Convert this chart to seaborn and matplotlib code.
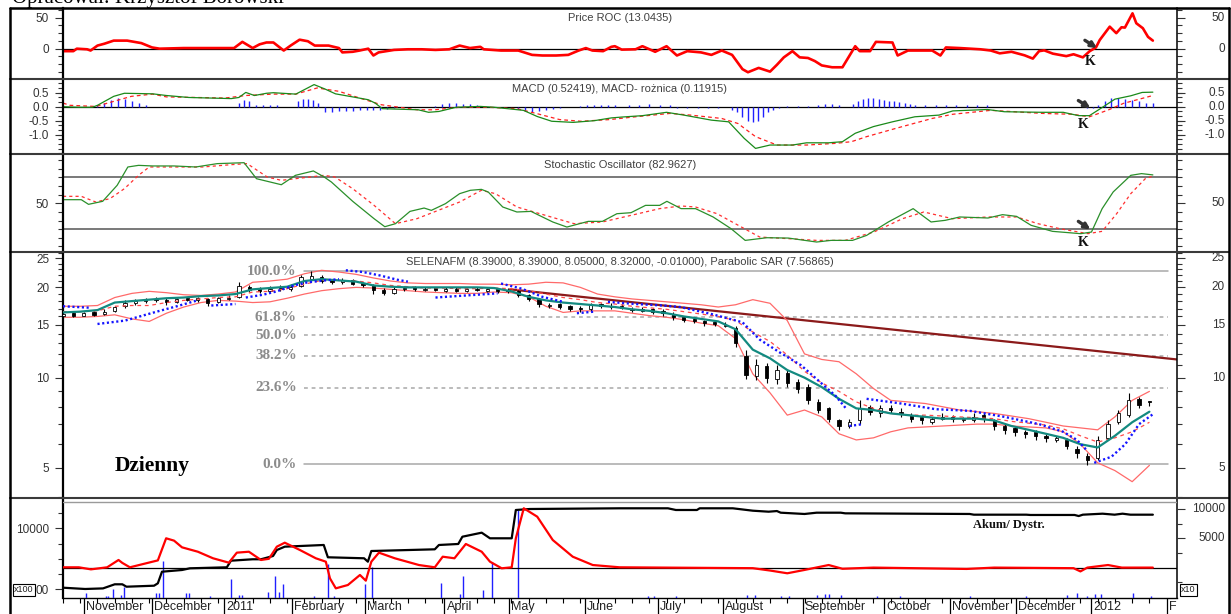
import numpy as np
import matplotlib
matplotlib.use('Agg')
import matplotlib.pyplot as plt
import matplotlib.ticker as mticker
import matplotlib.transforms as mtrans
from matplotlib.lines import Line2D
import seaborn as sns

W, H = 1231, 614
sns.set_theme(style='white')
plt.rcParams['font.family'] = ['Liberation Sans', 'DejaVu Sans']

# ---------------- data (x = trading-day index) ----------------
month_pos = [6.1, 25.8, 46.8, 66.5, 87.5, 110.6, 129.2, 151.3, 172.5, 191.3, 214.5, 238, 257.1, 276.4, 298, 320]
month_lab = ['November', 'December', '2011', 'February', 'March', 'April', 'May', 'June', 'July',
             'August', 'September', 'October', 'November', 'December', '2012', 'F']

roc_day = [0,3,4,7,8,10,12,14.7,18.6,22.7,25.8,28,35,42,49.6,52,55,57,59,61,
           64,66,68.6,71,73,77,80,81,84,86,88.5,90,91.5,96,100,104,108,112,115,118,
           121,122,127,132,136,139,143,146.5,149.5,151.6,153.5,156.6,159,160,162,166,168,171.7,175,178,
           181,185,188,191,194,197,198.6,201.7,205,207,209,211.5,213.6,216,218,220,223,226,229.7,231,
           234,235.7,240.5,242,245,252,254.4,256,260,263,266,269,271.6,275,278.8,281.2,283,284.5,287,290.9,
           293,295.7,297.7,299.5,300.6,303.5,305.4,306.9,307.9,310.1,311.2,313.1,314.6,316]
roc_val = [-4,-4,0,-1,-3,5,8,13,13,9,2,0,1,1,1,11,1,7,10,10,
           -3,5,14.5,12,5,5,1,-6,-5,-3,0,-11,-6,-2,-1,-1,-2,-1,5,1,
           3,-1,-3,-3,-10,-11,-11,-10,-3,1,-3,-4,3,4,-1.5,-1,4,-5,4,-11,
           -4,-6,-10,-3,-10,-33,-38,-31,-37,-26,-14,-4,-14,-15,-20,-27,-30,-30,4,-4,
           -4,11,10,-11,-3,-3,-11,2,1,0,-1,-3,-7.5,-5,-10.7,-16,-4,-2.7,-8,-12,
           -9,-14,-4,2,14,35.5,25,34.5,34,57,41,33,19,13]

macd_day = [0,4.5,8.5,10,14.7,17.8,26,30,36.4,42.6,48.8,51,53,55.5,59,61,67.5,72.8,76,79,
            84,88.5,90.5,92.6,103,106,109,114,121,125,133.5,137.5,141.7,147.9,154,159,162,168,175,180,
            188,193,197.5,200.8,205,211.5,215.6,222,226,229.7,235,240.5,247,254,258,268,273,284,290,294.5,
            297.6,300.9,305,309.6,312.9,316]
macd_val = [0,-0.02,-0.02,0.05,0.37,0.48,0.46,0.40,0.33,0.31,0.29,0.33,0.51,0.40,0.48,0.50,0.45,0.79,0.63,0.46,
            0.35,0.25,0.13,-0.07,-0.11,-0.20,-0.17,-0.02,0.01,-0.02,-0.13,-0.35,-0.52,-0.56,-0.50,-0.40,-0.37,-0.32,-0.20,-0.30,
            -0.48,-0.54,-1.13,-1.49,-1.37,-1.37,-1.29,-1.29,-1.25,-0.95,-0.71,-0.54,-0.36,-0.30,-0.15,-0.10,-0.18,-0.20,-0.20,-0.32,
            -0.32,-0.06,0.27,0.39,0.51,0.52]
sig_day = [0,2,9.5,14.7,19.8,26,30,47,53,61,67.5,73.7,80,86,92.3,102.7,107.8,115,123.4,131.6,
           137.8,144,150.2,158.5,166,176,182,191,195.7,200.8,207,215.6,224,228.6,233,241.6,252,258,269,284,
           292.6,297.6,303,307.5,313,316]
sig_val = [0.13,0.05,0.01,0.19,0.37,0.45,0.35,0.31,0.40,0.45,0.45,0.67,0.55,0.31,0.07,-0.11,-0.11,-0.02,-0.02,-0.07,
           -0.26,-0.46,-0.52,-0.46,-0.36,-0.24,-0.30,-0.42,-0.60,-1.07,-1.37,-1.37,-1.31,-1.25,-1.07,-0.77,-0.42,-0.27,-0.13,-0.24,
           -0.27,-0.36,-0.12,0.12,0.30,0.40]
hist_day = [10,12,14,16,18,20,22,24, 51,52.5,54,56,58,60,62, 68,69.5,71,72.5,74,
            76,78,80,82,84,86,88,90,92,94,96, 108,110,112,114,116,118,120,
            132,134,136,138,140,142,144, 150,152,154,156,158,160,164,167,170,173,176,
            178,181,184,187,190, 194,195.5,197,198.5,200,201.5,203,204.5,206,207.5,
            210,213,216,219,221,223,225, 229,230.5,232,233.5,235,236.5,238,239.5,241,242.5,244,245.5,247,
            250,253,256,259,262,265,268, 297,298.5, 300,302,304,306,308,310,312,314,316]
hist_val = [0.05,0.15,0.25,0.30,0.28,0.20,0.12,0.05, 0.15,0.25,0.20,0.07,0.05,0.05,0.06, 0.20,0.27,0.27,0.25,0.15,
            -0.20,-0.18,-0.17,-0.15,-0.14,-0.12,-0.10,-0.10,-0.10,-0.08,-0.05, 0.04,0.08,0.12,0.13,0.10,0.08,0.05,
            -0.08,-0.15,-0.18,-0.15,-0.12,-0.08,-0.04, 0.04,0.05,0.05,0.05,0.06,0.05,0.05,0.07,0.08,0.07,0.05,
            -0.04,-0.04,-0.04,-0.04,-0.04, -0.10,-0.20,-0.35,-0.50,-0.55,-0.50,-0.35,-0.20,-0.10,-0.05,
            0.04,0.04,0.04,0.06,0.10,0.08,0.05, 0.10,0.20,0.28,0.30,0.30,0.28,0.25,0.22,0.20,0.17,0.14,0.10,0.07,
            0.05,0.05,0.05,0.05,0.05,0.05,0.05, -0.04,-0.05, 0.05,0.20,0.30,0.30,0.28,0.25,0.20,0.15,0.12]

stk_day = [0,5.3,7.4,11.5,15.7,18.8,21.9,26.0,32.2,38.5,44.7,52.5,56.1,63.3,67.4,72.6,75.7,77.8,84.0,90.2,
           93.3,96.4,100.6,104.7,106.8,110.9,115.0,118.1,121.3,123.3,127.5,131.6,135.7,142.0,146.1,152.3,156.4,160.6,164.7,168.9,
           173.0,175.1,179.2,183.4,188.5,193.7,197.8,204.1,210.3,218.5,222.7,228.9,233.0,239.3,246.5,251.7,255.8,260.0,268.2,272.4,
           276.5,280.7,286.9,295.1,298.2,301.3,304.5,309.6,312.7,316]
stk_val = [54.2,54.2,48.8,52.3,70.9,92.2,94.1,93.4,93.4,92.2,96.1,97.2,78.6,71.6,82.5,87.6,80.6,74.8,52.3,32.1,
           22.8,26.3,40.6,44.5,41.8,49.6,61.2,65.1,66.2,63.1,45.7,39.9,40.6,28.3,22.4,29.0,29.0,37.9,39.1,47.6,
           47.6,52.3,43.8,43.8,34.1,20.5,6.9,10.0,9.6,5.0,6.9,6.9,12.7,28.3,43.8,28.3,30.2,34.1,32.9,36.8,
           34.8,24.4,17.4,14.7,16.6,43.8,63.2,82.5,84.5,83.0]
std_day = [0,5.3,9.5,13.6,17.8,21.9,25.0,32.2,40.5,48.8,53.4,59.2,63.3,67.4,75.7,78.8,84.0,90.2,96.4,102.6,
           108.8,115.0,121.3,125.4,131.6,139.9,148.2,156.4,164.7,173.0,179.2,183.4,189.6,195.8,202.0,210.3,218.5,226.8,235.1,243.4,
           249.6,257.9,268.2,276.5,282.7,289.0,297.2,301.3,305.5,309.6,313.8,316]
std_val = [58.1,58.1,51.5,55.4,67.0,82.5,92.2,92.2,92.2,94.9,96.1,80.6,76.7,78.6,82.5,80.6,67.0,47.6,26.3,32.1,
           41.8,51.5,65.1,61.2,45.7,36.0,26.3,28.3,36.0,43.8,46.9,45.7,38.0,24.4,10.8,8.9,6.9,6.9,16.6,32.1,
           39.9,32.1,34.1,34.1,26.3,20.5,14.7,17.4,37.9,61.2,78.6,81.5]

# candles every 3 trading days
c_day = list(range(0, 316, 3))
c_open = [16.0,16.4,16.1,16.5,16.3,16.7,17.3,17.7,18.0,18.3,
          18.2,17.9,18.4,18.1,18.3,17.9,18.3,18.6,20.1,19.7,
          19.5,19.9,19.7,20.2,21.4,21.7,21.1,20.8,21.1,20.7,
          20.3,19.6,19.2,19.7,20.0,19.6,19.9,19.5,19.8,19.5,
          19.8,19.5,19.7,19.6,19.4,18.8,18.3,17.4,17.6,17.3,
          17.1,16.9,17.6,17.2,17.4,17.0,16.7,16.9,16.7,16.3,
          15.9,15.7,15.4,15.3,14.9,14.6,11.8,10.1,10.9,9.9,
          10.4,9.7,9.3,8.3,7.9,7.2,6.9,7.2,8.0,7.6,
          7.9,7.7,7.5,7.4,7.1,7.3,7.4,7.2,7.2,7.5,
          7.2,6.9,6.8,6.6,6.6,6.4,6.2,6.2,5.8,5.5,
          5.4,6.3,7.1,7.5,8.5,8.39]
c_close = [16.3,16.1,16.4,16.2,16.6,17.2,17.8,18.0,18.2,18.1,
           17.9,18.3,18.2,18.4,17.8,18.4,18.5,20.2,19.6,19.4,
           19.8,19.7,20.1,21.6,21.8,21.0,20.9,21.2,20.6,20.4,
           19.6,19.1,19.8,19.9,19.7,19.8,19.6,19.7,19.5,19.8,
           19.6,19.7,19.5,19.4,18.9,18.3,17.6,17.5,17.2,17.0,
           16.9,17.5,17.3,17.4,17.1,16.8,16.9,16.6,16.4,15.9,
           15.6,15.5,15.2,15.1,15.0,13.0,10.2,11.0,10.0,10.6,
           9.6,9.2,8.4,7.8,7.3,6.9,7.1,7.9,7.7,7.9,
           7.8,7.6,7.3,7.2,7.3,7.4,7.3,7.3,7.4,7.3,
           6.9,6.7,6.6,6.5,6.4,6.3,6.3,5.9,5.6,5.3,
           6.2,7.0,7.6,8.4,8.1,8.32]
c_high = [16.5,16.6,16.6,16.7,16.9,17.4,18.1,18.3,18.5,18.6,
          18.4,18.5,18.6,18.6,18.5,18.6,18.8,20.9,20.4,20.0,
          20.2,20.3,20.5,22.0,22.6,22.0,21.4,21.5,21.3,20.9,
          20.5,19.9,20.1,20.2,20.2,20.1,20.1,20.0,20.0,20.1,
          20.0,20.0,19.9,19.9,19.6,19.0,18.5,17.8,17.8,17.5,
          17.3,17.7,17.8,17.7,17.6,17.2,17.2,17.1,16.9,16.5,
          16.1,15.9,15.6,15.5,15.3,14.9,12.4,11.5,11.2,11.0,
          10.6,9.9,9.5,8.5,8.0,7.3,7.3,8.4,8.1,8.1,
          8.1,7.9,7.6,7.5,7.4,7.6,7.5,7.4,7.6,7.6,
          7.3,7.0,6.9,6.7,6.7,6.5,6.4,6.3,5.9,5.6,
          6.4,7.2,7.8,8.9,8.6,8.39]
c_low = [15.8,15.9,16.0,16.0,16.2,16.6,17.1,17.5,17.8,17.9,
         17.5,17.7,18.0,17.9,17.3,17.7,18.1,18.5,19.3,19.1,
         19.3,19.4,19.5,20.0,21.2,20.7,20.6,20.6,20.3,20.1,
         19.0,18.9,19.0,19.5,19.5,19.4,19.4,19.3,19.3,19.3,
         19.4,19.3,19.2,19.2,18.6,18.0,17.2,17.1,16.9,16.7,
         16.6,16.7,17.1,17.0,16.9,16.5,16.5,16.3,16.1,15.6,
         15.3,15.2,14.9,14.9,14.7,12.7,9.9,9.8,9.6,9.5,
         9.3,8.9,8.2,7.6,7.1,6.7,6.8,7.0,7.5,7.4,
         7.6,7.4,7.1,7.0,7.0,7.2,7.1,7.1,7.1,7.1,
         6.7,6.5,6.4,6.3,6.2,6.1,6.1,5.8,5.4,5.1,
         5.3,6.2,7.0,7.4,7.9,8.05]

# weekly readings (every 5 trading days)
w_day = list(range(0, 316, 5))
ma_teal = [16.5,16.6,16.8,17.8,18.0,18.2,18.4,18.5,18.7,18.8,
           19.0,19.7,19.9,20.1,21.0,21.3,21.1,20.9,20.3,20.1,
           20.0,20.0,20.0,20.0,20.0,19.9,19.4,18.6,18.1,17.8,
           17.6,17.4,17.2,16.9,16.7,16.4,16.0,15.7,15.4,14.5,
           12.4,11.6,10.6,10.0,9.3,8.5,7.9,7.8,7.6,7.5,
           7.4,7.3,7.3,7.3,7.2,6.9,6.7,6.5,6.3,6.0,
           5.85,6.4,7.1,7.7]
ma_red = [16.6,16.6,16.7,17.3,17.4,17.4,17.8,18.1,18.3,18.5,
          18.6,19.3,19.4,19.8,20.5,21.1,21.1,21.0,20.7,20.3,
          20.1,19.9,19.9,19.8,19.8,19.9,19.8,19.5,19.0,18.5,
          18.2,17.8,17.6,17.3,17.1,16.9,16.6,16.3,16.0,15.5,
          14.2,13.2,11.9,10.5,9.6,9.0,8.3,7.9,7.6,7.5,
          7.5,7.45,7.4,7.35,7.3,7.15,7.05,6.95,6.75,6.4,
          6.1,6.3,6.6,7.1]
bb_upper = [17.3,17.3,17.4,18.5,19.1,19.4,19.2,18.9,18.8,19.0,
            19.3,20.8,21.0,21.3,22.2,22.8,22.5,22.1,21.5,21.0,
            20.7,20.6,20.6,20.6,20.5,20.5,20.4,20.5,20.8,20.7,
            20.0,19.0,18.6,18.3,18.1,17.9,17.7,17.5,17.2,17.5,
            18.2,17.7,15.5,12.0,11.5,11.3,10.3,9.2,8.4,8.3,
            8.2,8.0,7.8,7.7,7.6,7.45,7.3,7.1,6.9,6.8,
            6.7,7.4,8.4,9.0]
bb_lower = [15.9,15.9,16.0,16.2,15.7,15.4,16.4,17.2,17.8,18.1,
            18.0,17.8,17.9,18.4,19.0,19.5,19.8,20.0,19.9,19.7,
            19.5,19.3,19.2,19.1,19.1,19.3,19.2,18.6,17.3,16.5,
            16.7,16.7,16.7,16.4,16.1,15.9,15.6,15.2,14.9,13.5,
            10.3,8.9,7.5,7.8,7.4,6.5,6.2,6.3,6.6,6.8,
            6.85,6.9,6.95,7.0,7.0,6.9,6.85,6.8,6.6,6.0,
            5.2,4.9,4.5,5.1]

nan = np.nan
sar_day = [0,4,8,nan,10,18,28,33,39,nan,43,50,nan,53,58,62,67,71,76,80,nan,82,87,92,97,100,nan,
           108,117,126,nan,127,133,139,145,nan,149,154,nan,158,166,174,179,188,197,202,208,214,224,227,nan,
           228,232,nan,233,243,253,263,273,283,290,294,297,nan,299,304,308,312,316]
sar_val = [17.3,17.2,17.1,nan,15.1,15.5,16.7,17.3,18.1,nan,17.4,17.6,nan,18.5,18.9,19.4,20.3,20.8,21.1,21.3,nan,
           22.8,22.5,21.9,21.2,20.9,nan,18.5,18.8,19.1,nan,20.6,19.8,18.6,17.9,nan,16.4,16.6,nan,
           17.9,17.6,17.4,17.2,16.3,15.3,13.4,12.1,11.0,8.7,7.9,nan,6.9,7.0,nan,
           8.5,8.2,7.85,7.75,7.4,7.0,6.6,6.2,5.7,nan,5.2,5.45,6.0,7.0,7.55]

trend_day = [129.6, 323]
trend_val = [19.7, 11.5]
fib_levels = [22.6, 15.93, 13.87, 11.81, 9.26, 5.14]
fib_labels = ['100.0%', '61.8%', '50.0%', '38.2%', '23.6%', '0.0%']

ad_day = [0,6.4,11.6,15,17.2,18.4,26.4,27.5,28.7,34.5,36.8,47.5,48.7,55,57.4,60.9,62,64.3,75.6,76.8,
          87.3,88.4,89.4,107.8,109,114.6,115.8,121.4,123.8,130.1,131.3,135.4,161.4,175.4,177.7,183.8,184.6,194.2,200,204.6,
          207,208.1,215,218.5,225.5,226.8,262.9,264.1,279.3,280.5,293.3,294.5,295.7,301.4,304.9,307.2,309.5,316]
ad_val = [-3430,-3650,-3550,-2850,-2850,-3260,-3090,-2680,-700,-410,-120,50,1180,1420,1420,1980,3000,3570,3860,1760,
          1590,1010,2830,3120,3860,4030,5270,5960,5000,5000,9830,10000,10120,10120,9830,9830,10120,10120,9710,9540,
          9650,9370,9150,9370,9370,9260,9150,9030,9030,8980,8980,8800,9030,9200,9030,9200,9030,9030]
osc_day = [0,4.6,8.1,12.8,16.1,17.2,19.4,27.5,29.9,32.2,34.5,39.1,43.5,48.1,50.4,53.9,57.4,59.7,62,64.3,
           68.7,73.3,76.2,77.4,79.1,82.6,86.1,87.8,89.4,91.6,96.2,103.2,107.8,110.1,113.5,116.8,121.4,123.8,127.2,130.1,
           131.3,133.6,137.5,142,147.8,153.6,161.4,200,205,210,215,222,226,235,262,270,293,295,297,303,307,316]
osc_val = [50,50,-300,50,1300,800,50,1230,5000,4600,3460,2710,1590,840,2550,2710,1300,1500,3570,4250,
           3000,1590,1010,-1830,-3540,-2970,-1260,-2230,1010,2550,1590,440,50,1860,1590,4030,2710,1010,-120,50,
           5000,10120,8690,4710,1860,440,50,-100,-500,-970,-400,440,-200,0,-230,0,-100,-650,0,440,0,0]
vol_day = [6.7,12.5,13.0,14.4,16.7,17.6,26.9,27.8,29.0,35.7,36.4,42.5,48.7,51.0,51.9,59.3,61.6,62.5,63.7,72.8,
           76.8,78.6,87.7,89.6,109.7,115.0,116.1,121.8,124.3,131.8,169.6,171.3,177.7,198.3,200.6,208.1,210.4,218.5,221,222.2,
           225.5,236.1,242.6,262.9,279.3,291,294,297,299.3,301,310.1,315.4]
vol_val = [770,330,330,1480,490,1750,820,820,6070,820,820,330,3120,490,490,1040,3610,1040,2240,330,
           5630,330,2300,5030,2410,600,3610,1310,5960,14400,330,330,300,490,490,330,330,490,650,650,
           490,330,330,330,300,500,820,400,650,650,820,330]

# ---------------- figure ----------------
fig = plt.figure(figsize=(W / 100, H / 100), dpi=100)
fig.patch.set_facecolor('white')
X0, X1 = 63, 1177
XR = (1225 - X0) / (X1 - X0)   # right label anchor in axes fraction
LBL = dict(fontsize=8.5, color='#333333')
ARROW = dict(arrowstyle='-|>', color='#333333', lw=2.4, mutation_scale=8, shrinkA=0, shrinkB=0)


def panel(top, bot):
    return fig.add_axes([X0 / W, 1 - bot / H, (X1 - X0) / W, (bot - top) / H])


def style(ax, ylim, major, labels, minor, log=False):
    if log:
        ax.set_yscale('log')
    ax.set_xlim(0, 323)
    ax.set_ylim(*ylim)
    ax.set_facecolor('white')
    for s in ['top', 'bottom']:
        ax.spines[s].set_visible(False)
    ax.spines['left'].set_linewidth(1.6)
    ax.spines['left'].set_color('black')
    ax.spines['right'].set_linewidth(1.1)
    ax.spines['right'].set_color('black')
    ax.yaxis.set_major_locator(mticker.FixedLocator(major))
    ax.yaxis.set_major_formatter(mticker.FixedFormatter(labels))
    ax.yaxis.set_minor_locator(mticker.FixedLocator(minor))
    ax.yaxis.set_minor_formatter(mticker.NullFormatter())
    ax.tick_params(axis='y', which='both', direction='out', left=True, right=True,
                   labelleft=True, labelright=False, colors='#333333', labelsize=8.5, width=0.8)
    ax.tick_params(axis='y', which='major', length=6, pad=4)
    ax.tick_params(axis='y', which='minor', length=3.5)
    ax.set_xticks([])
    tr = mtrans.blended_transform_factory(ax.transAxes, ax.transData)
    for v, l in zip(major, labels):
        ax.text(XR, v, l, transform=tr, ha='right', va='center', **LBL)


def title(ax, yfrac, txt):
    ax.text(0.5, yfrac, txt, transform=ax.transAxes, ha='center', va='center',
            fontsize=8, color='#404040')


def dashed(ax, pat=(3, 2)):
    ax.lines[-1].set_linestyle((0, pat))


def k_mark(ax, tail, head, kpos):
    ax.annotate('', xy=head, xytext=tail, arrowprops=ARROW, zorder=8)
    ax.text(kpos[0], kpos[1], 'K', ha='center', va='center', fontsize=10, fontweight='bold',
            family=['Liberation Serif'], color='#111111', zorder=8)


# ---- Panel 1: Price ROC
ax1 = panel(8, 79)
style(ax1, (-48.9, 65.6), [0, 50], ['0', '50'], list(np.arange(-37.5, 65, 12.5)))
ax1.axhline(0, color='black', lw=0.9, zorder=1)
sns.lineplot(x=roc_day, y=roc_val, ax=ax1, color='#ff0000', lw=1.9, legend=False, errorbar=None, sort=False)
title(ax1, 0.86, 'Price ROC (13.0435)')
k_mark(ax1, (296.3, 13.5), (299.8, 1.0), (297.7, -21))

# ---- Panel 2: MACD
ax2 = panel(79, 154)
style(ax2, (-1.69, 0.99), [-1.0, -0.5, 0.0, 0.5], ['-1.0', '-0.5', '0.0', '0.5'],
      list(np.arange(-1.6667, 0.99, 1 / 6)))
ax2.axhline(0, color='black', lw=0.9, zorder=1)
ax2.vlines(hist_day, 0, hist_val, color='#2020ff', lw=1.0, zorder=2)
sns.lineplot(x=sig_day, y=sig_val, ax=ax2, color='#ff2020', lw=0.9, legend=False, errorbar=None, sort=False)
dashed(ax2, (3, 2.5))
sns.lineplot(x=macd_day, y=macd_val, ax=ax2, color='#1a8a1a', lw=0.9, legend=False, errorbar=None, sort=False)
title(ax2, 0.867, 'MACD (0.52419), MACD- rożnica (0.11915)')
k_mark(ax2, (294.4, 0.22), (297.9, -0.05), (295.7, -0.65))

# ---- Panel 3: Stochastic
ax3 = panel(154, 252)
style(ax3, (-6.6, 107.3), [50], ['50'], [0, 10, 20, 30, 40, 60, 70, 80, 90, 100])
ax3.axhline(80, color='#555555', lw=1.1, zorder=1)
ax3.axhline(20, color='#555555', lw=1.1, zorder=1)
sns.lineplot(x=std_day, y=std_val, ax=ax3, color='#ff3030', lw=0.9, legend=False, errorbar=None, sort=False)
dashed(ax3, (2.5, 2.5))
sns.lineplot(x=stk_day, y=stk_val, ax=ax3, color='#2a8f2a', lw=0.9, legend=False, errorbar=None, sort=False)
title(ax3, 0.888, 'Stochastic Oscillator (82.9627)')
k_mark(ax3, (294.4, 29), (297.9, 19.5), (295.7, 4.5))

# ---- Panel 4: price
ax4 = panel(252, 498)
style(ax4, (3.97, 26.24), [5, 10, 15, 20, 25], ['5', '10', '15', '20', '25'],
      [v for v in range(4, 27) if v not in (5, 10, 15, 20, 25)], log=True)
for lv, lb in zip(fib_levels, fib_labels):
    solid = lb in ('100.0%', '0.0%')
    ax4.plot([70, 320.3], [lv, lv], color='#a8a8a8', lw=1.1,
             linestyle='-' if solid else (0, (2.5, 2.5)), zorder=1)
    ax4.text(67.8, lv, lb, ha='right', va='center', fontsize=11, fontweight='bold',
             family=['Liberation Serif'], color='#8c8c8c')
ax4.plot(trend_day, trend_val, color='#8b1a1a', lw=1.6, zorder=2)
sns.lineplot(x=w_day, y=bb_upper, ax=ax4, color='#ff6a6a', lw=0.9, legend=False, errorbar=None, sort=False)
sns.lineplot(x=w_day, y=bb_lower, ax=ax4, color='#ff6a6a', lw=0.9, legend=False, errorbar=None, sort=False)
ax4.vlines(c_day, c_low, c_high, color='black', lw=0.8, zorder=3)
body_col = ['white' if c >= o else 'black' for o, c in zip(c_open, c_close)]
ax4.bar(c_day, np.array(c_close) - np.array(c_open), bottom=c_open, width=0.95,
        color=body_col, edgecolor='black', linewidth=0.6, zorder=3)
sns.lineplot(x=w_day, y=ma_red, ax=ax4, color='#ff4a4a', lw=0.9, legend=False, errorbar=None, sort=False)
dashed(ax4, (3, 3))
ax4.lines[-1].set_zorder(4)
sns.lineplot(x=w_day, y=ma_teal, ax=ax4, color='#138a80', lw=1.6, legend=False, errorbar=None, sort=False)
ax4.lines[-1].set_zorder(5)
ax4.plot(sar_day, sar_val, color='#1414ff', lw=1.7, linestyle=(0, (0.9, 1.1)), zorder=6)
title(ax4, 0.959, 'SELENAFM (8.39000, 8.39000, 8.05000, 8.32000, -0.01000), Parabolic SAR (7.56865)')

# ---- Panel 5: volume / accumulation-distribution
ax5 = panel(498, 598)
style(ax5, (-1426, 14967), [0, 10000], ['00', '10000'], [2500, 5000, 7500, 12500])
for t in ax5.texts[:]:
    t.remove()
ax5.spines['bottom'].set_visible(True)
ax5.spines['bottom'].set_linewidth(1.0)
ax5.spines['bottom'].set_color('black')
ax5v = ax5.twinx()
ax5v.set_ylim(0, 16400)
ax5v.axis('off')
ax5v.vlines(vol_day, 0, vol_val, color='#2020ff', lw=1.0)
ax5r = ax5.twinx()
ax5r.set_ylim(-5188, 11877)
for s in ax5r.spines.values():
    s.set_visible(False)
ax5r.yaxis.set_major_locator(mticker.FixedLocator([5000, 10000]))
ax5r.yaxis.set_minor_locator(mticker.FixedLocator([-2500, 2500, 7500]))
ax5r.tick_params(axis='y', which='both', direction='out', right=True, left=False,
                 labelright=False, colors='#333333', width=0.8)
ax5r.tick_params(axis='y', which='major', length=6)
ax5r.tick_params(axis='y', which='minor', length=3.5)
ax5r.axhline(11200, color='#9a9a9a', lw=1.0)
ax5r.axhline(0, color='black', lw=0.9)
sns.lineplot(x=ad_day, y=ad_val, ax=ax5r, color='black', lw=1.6, legend=False, errorbar=None, sort=False)
sns.lineplot(x=osc_day, y=osc_val, ax=ax5r, color='#ff0000', lw=1.6, legend=False, errorbar=None, sort=False)
trr = mtrans.blended_transform_factory(ax5r.transAxes, ax5r.transData)
for v, l in zip([5000, 10000], ['5000', '10000']):
    ax5r.text(XR, v, l, transform=trr, ha='right', va='center', **LBL)
ax5r.text((1045 - X0) / (X1 - X0), 7300, 'Akum/ Dystr.', transform=trr, ha='right', va='center',
          fontsize=9, fontweight='bold', family=['Liberation Serif'], color='#111111')

ax5.set_xlim(0, 323)
ax5.xaxis.set_major_locator(mticker.FixedLocator(month_pos))
ax5.xaxis.set_minor_locator(mticker.MultipleLocator(5))
ax5.tick_params(axis='x', which='major', bottom=True, direction='out', length=12, width=0.9,
                color='black', labelbottom=False)
ax5.tick_params(axis='x', which='minor', bottom=True, direction='out', length=3.6, width=0.8, color='black')
trx = mtrans.blended_transform_factory(ax5.transData, ax5.transAxes)
for p, l in zip(month_pos, month_lab):
    ax5.text(p + 0.6, -0.03, l, transform=trx, ha='left', va='top', fontsize=9, color='#222222')

for a in (ax1, ax2, ax3, ax4, ax5, ax5r):
    a.set_xlabel('')
    a.set_ylabel('')

# ---------------- frame and decorations ----------------
def fline(xs, ys, lw=1.5, color='#333333'):
    fig.add_artist(Line2D([x / W for x in xs], [1 - y / H for y in ys], lw=lw, color=color,
                          transform=fig.transFigure))

for yy in (79, 154, 252, 498):
    fline([10, 1229], [yy, yy], lw=1.5, color='#3a3a3a')
fline([10, 1229], [8, 8], lw=1.8, color='black')
fline([10, 10], [8, 614], lw=1.8, color='black')
fline([1229, 1229], [8, 614], lw=1.8, color='black')

fig.text(12 / W, 1 - 3 / H, 'Opracował: Krzysztof Borowski', family=['Liberation Serif'],
         fontsize=15, ha='left', va='baseline', color='black')
fig.text(115 / W, 1 - 466 / H, 'Dzienny', family=['Liberation Serif'], fontsize=15.5,
         fontweight='bold', ha='left', va='center', color='black')
fig.text(14 / W, 1 - 590 / H, 'x100', fontsize=6.5, ha='left', va='center', color='#222222',
         bbox=dict(boxstyle='square,pad=0.15', fc='white', ec='black', lw=0.8))
fig.text(1181 / W, 1 - 590 / H, 'x10', fontsize=6.5, ha='left', va='center', color='#222222',
         bbox=dict(boxstyle='square,pad=0.15', fc='white', ec='black', lw=0.8))

fig.savefig('out.png', dpi=100, facecolor='white')
